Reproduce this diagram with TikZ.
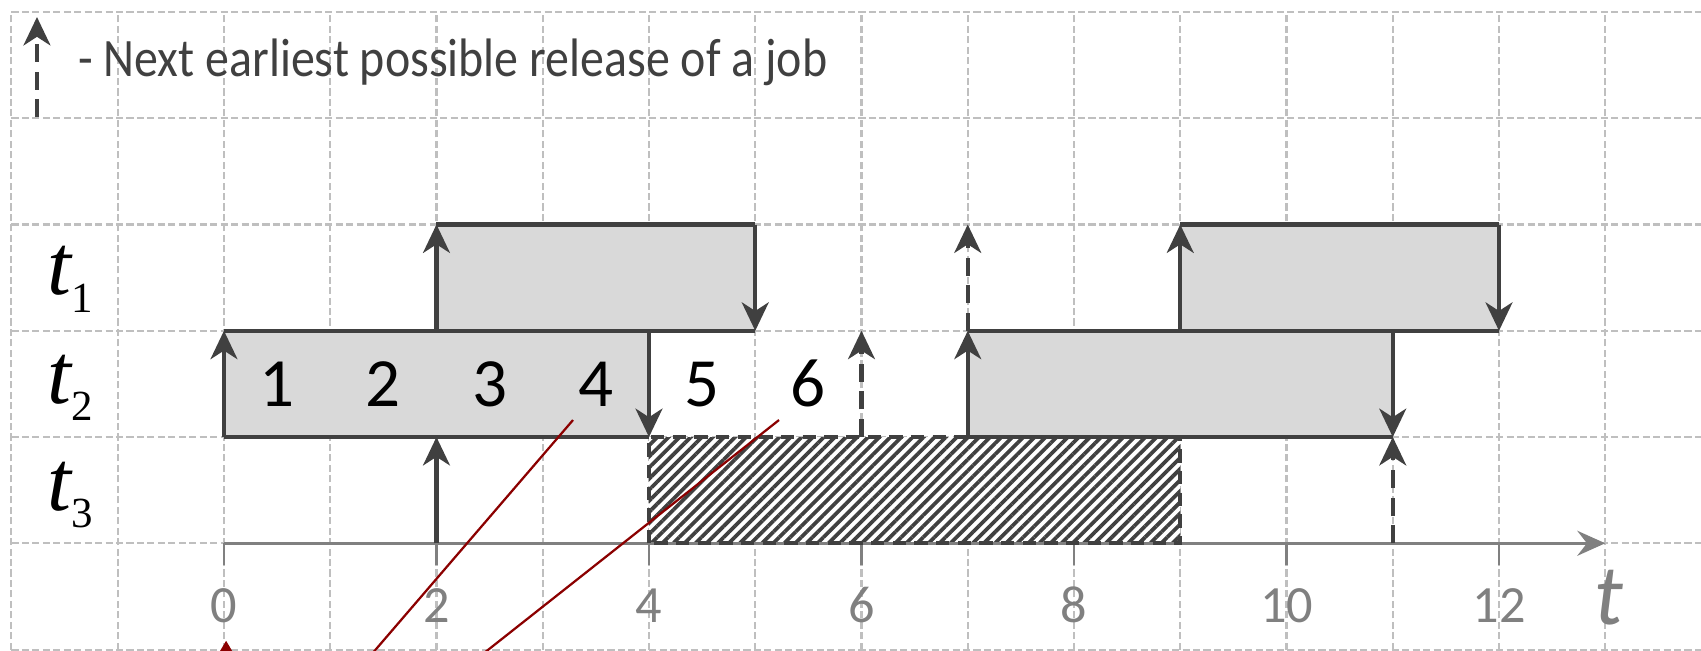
\documentclass[tikz,border=0pt]{standalone}
\usepackage{fontspec}
\setmainfont{Carlito}
\newfontfamily\tserif{Liberation Serif}
\usetikzlibrary{arrows.meta,patterns.meta}
\definecolor{ink}{HTML}{404040}
\definecolor{boxfill}{HTML}{D9D9D9}
\definecolor{gridc}{HTML}{BFBFBF}
\definecolor{axisc}{HTML}{808080}
\definecolor{markred}{HTML}{8B0000}
\newcommand{\tasklabel}[1]{{\fontsize{23}{23}\selectfont\tserif\itshape t}\raisebox{-4.8pt}{\fontsize{11.5}{11.5}\selectfont\tserif #1}}
\begin{document}
\begin{tikzpicture}[
  gridline/.style={draw=gridc, line width=0.55pt, dash pattern=on 1.9pt off 0.9pt},
  edge/.style={draw=ink, line width=1.15pt},
  rel/.style={draw=ink, line width=1.1pt, -{Stealth[length=7.6pt,width=7.2pt,inset=2.3pt]}},
  nextrel/.style={rel, dash pattern=on 4.8pt off 2.6pt},
  jobbox/.style={fill=boxfill},
  idlebox/.style={draw=ink, line width=1.1pt, dash pattern=on 3.6pt off 2.2pt},
  axisline/.style={draw=axisc, line width=0.7pt},
  ticklabel/.style={text=axisc, font=\fontsize{14}{14}\selectfont, anchor=base, inner sep=0pt},
  joblabel/.style={text=black, font=\fontsize{18.5}{18.5}\selectfont, anchor=base, inner sep=0pt},
  rowlabel/.style={anchor=base west, inner sep=0pt},
  redline/.style={draw=markred, line width=0.6pt}
]
\useasboundingbox (-2.108,-1.0136) rectangle (13.901,5.113);
\clip (-2.108,-1.0136) rectangle (13.901,5.113);

% background grid
\draw[gridline] (-2,-1.1) grid (13.95,5);

% legend
\coordinate (legA) at (-1.76,4.01);
\coordinate (legB) at (-1.76,4.953);
\draw[nextrel] (legA) -- (legB);
\node[anchor=base west, inner sep=0pt, text=ink, font=\fontsize{14.5}{14.5}\selectfont] (legtext) at (-1.379,4.389)
  {\scalebox{0.885}[1]{- Next earliest possible release of a job}};

% idle interval of t3
\fill[white] (4,0) rectangle (9,1);
\fill[pattern={Lines[angle=45,distance=2.1pt,line width=1pt]}, pattern color=ink] (4,0) rectangle (9,1);

% job boxes
\fill[jobbox] (0,1) rectangle (4,2);
\fill[jobbox] (2,2) rectangle (5,3);
\fill[jobbox] (7,1) rectangle (11,2);
\fill[jobbox] (9,2) rectangle (12,3);

% time axis
\draw[axisline, -{Stealth[length=7.5pt,width=6.7pt,inset=2.6pt]}] (0,0) -- (13,0);
\foreach \k in {0,2,...,12} {
  \draw[axisline] (\k,0) -- (\k,-0.2);
  \node[ticklabel] (tick\k) at (\k,-0.741) {\k};
}
\node[text=axisc, font=\fontsize{23}{23}\selectfont\itshape, anchor=base, inner sep=0pt] (taxis) at (13.03,-0.769) {t};

% idle border
\draw[idlebox] (4,0) rectangle (9,1);

% box edges
\draw[edge] (0,2) -- (4,2) (0,1) -- (4,1);
\draw[edge] (2,3) -- (5,3) (2,2) -- (5,2);
\draw[edge] (7,2) -- (11,2) (7,1) -- (11,1);
\draw[edge] (9,3) -- (12,3) (9,2) -- (12,2);

% releases and deadlines
\draw[rel] (0,1) -- (0,2);
\draw[rel] (4,2) -- (4,1);
\draw[rel] (2,2) -- (2,3);
\draw[rel] (5,3) -- (5,2);
\draw[rel] (7,1) -- (7,2);
\draw[rel] (11,2) -- (11,1);
\draw[rel] (9,2) -- (9,3);
\draw[rel] (12,3) -- (12,2);
\draw[rel] (2,0) -- (2,1);

% next earliest releases
\draw[nextrel] (6,1) -- (6,2);
\draw[nextrel] (7,2) -- (7,3);
\draw[nextrel] (11,0) -- (11,1);

% job indices
\foreach \j in {1,...,6} {
  \node[joblabel] (job\j) at (\j-0.5,1.283) {\j};
}

% row labels
\node[rowlabel] (row1) at (-1.666,2.337) {\tasklabel{1}};
\node[rowlabel] (row2) at (-1.666,1.320) {\tasklabel{2}};
\node[rowlabel] (row3) at (-1.666,0.313) {\tasklabel{3}};

% red pointer lines
\coordinate (r1a) at (3.285,1.160);
\coordinate (r1b) at (1.342,-1.1);
\coordinate (r2a) at (5.224,1.160);
\coordinate (r2b) at (2.363,-1.1);
\draw[redline] (r1a) -- (r1b);
\draw[redline] (r2a) -- (r2b);
\fill[markred] (0.02,-0.918) -- (0.099,-1.05) -- (-0.059,-1.05) -- cycle;
\end{tikzpicture}
\end{document}
